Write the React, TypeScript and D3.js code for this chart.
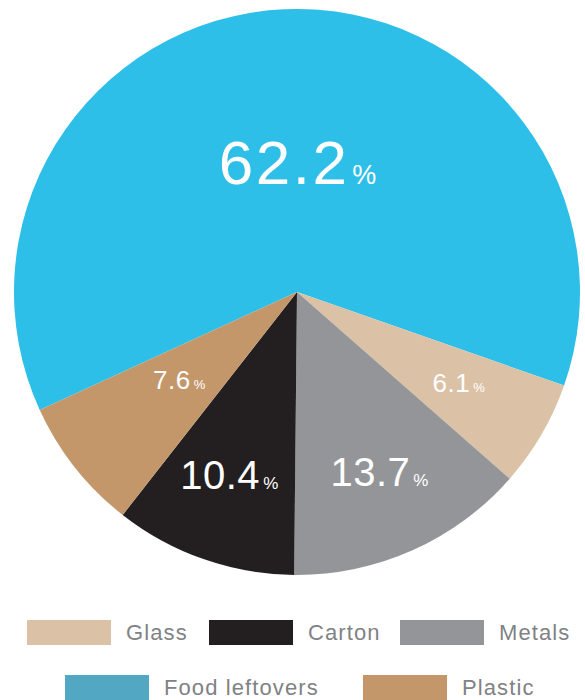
import React from "react";
import * as d3 from "d3";

const categories = ["Food leftovers", "Glass", "Metals", "Carton", "Plastic"];
const values = [62.2, 6.1, 13.7, 10.4, 7.6];
const sliceColors = ["#2ebfe8", "#dbc2a6", "#939598", "#231f20", "#c3976a"];
const legendColors = ["#52a7c3", "#dbc2a6", "#939598", "#231f20", "#c3976a"];
const labelRadiusFrac = [0.46, 0.655, 0.7, 0.69, 0.52];
const labelAngleOffsetDeg = [2.9, -1, -0.5, 1, 1.5];
const labelFont = [62, 26, 40, 40, 26];
const pctFont = [27, 13, 17, 17, 13];
const labelSpacing = [2.5, 0.5, 0.5, 0.5, 0.5];
const legendRows = [
  ["Glass", "Carton", "Metals"],
  ["Food leftovers", "Plastic"],
];
const legendX = [
  [27, 209, 400],
  [65, 363],
];

export default function App() {
  const W = 585, H = 700;
  const cx = 297, cy = 292, r = 283;
  const start = ((109.3 - 223.92) * Math.PI) / 180;
  const pie = d3.pie<number>().sort(null).value((d) => d).startAngle(start).endAngle(start + 2 * Math.PI);
  const arcs = pie(values);
  const arc = d3.arc<d3.PieArcDatum<number>>().innerRadius(0).outerRadius(r);
  return (
    <svg width={W} height={H} style={{ position: "absolute", left: 0, top: 0 }} fontFamily="'Liberation Sans', Arial, sans-serif">
      <g transform={`translate(${cx},${cy})`}>
        {arcs.map((a, i) => (
          <path key={i} d={arc(a) || ""} fill={sliceColors[i]} />
        ))}
        {arcs.map((a, i) => {
          const lr = labelRadiusFrac[i] * r;
          const off = (labelAngleOffsetDeg[i] * Math.PI) / 180;
          const shifted = { ...a, startAngle: a.startAngle + off, endAngle: a.endAngle + off };
          const c = d3.arc<d3.PieArcDatum<number>>().innerRadius(lr).outerRadius(lr).centroid(shifted);
          return (
            <text key={"l" + i} x={c[0]} y={c[1] + labelFont[i] * 0.358} textAnchor="middle" fill="#ffffff" fontSize={labelFont[i]} letterSpacing={labelSpacing[i]}>
              {values[i].toFixed(1)}
              <tspan fontSize={pctFont[i]} dx={3} letterSpacing={0}>%</tspan>
            </text>
          );
        })}
      </g>
      {legendRows.map((row, ri) =>
        row.map((name, j) => {
          const idx = categories.indexOf(name);
          const x = legendX[ri][j];
          const y = ri === 0 ? 620 : 675;
          return (
            <g key={name}>
              <rect x={x} y={y} width={84} height={25} fill={legendColors[idx]} />
              <text x={x + 99} y={y + 20} fontSize={22} letterSpacing={1.1} fill="#808285">{name}</text>
            </g>
          );
        })
      )}
    </svg>
  );
}
